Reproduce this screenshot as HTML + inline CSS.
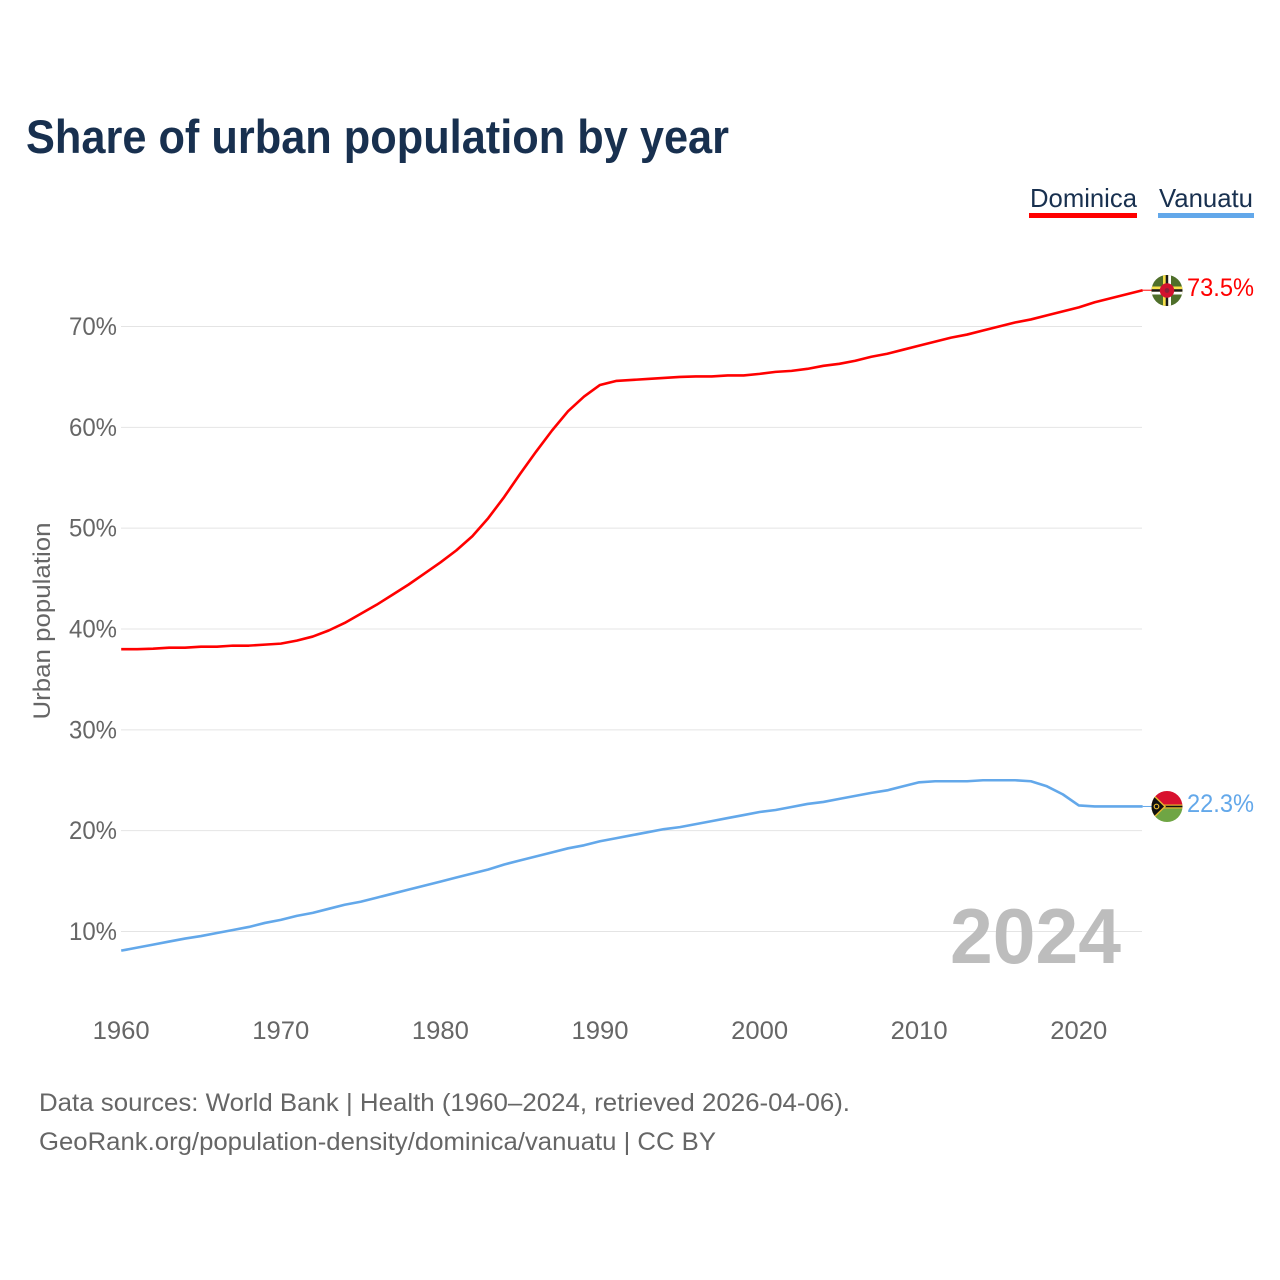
<!DOCTYPE html>
<html lang="en">
<head>
<meta charset="utf-8">
<title>Share of urban population by year</title>
<style>
html,body{margin:0;padding:0;background:#fff;}
svg{display:block;}
text{font-family:"Liberation Sans",sans-serif;}
</style>
</head>
<body>
<svg id="chart" xmlns="http://www.w3.org/2000/svg" width="1280" height="1280" viewBox="0 0 1280 1280">
  <defs>
    <clipPath id="clip-dominica"><circle cx="1167" cy="290.5" r="15.5"/></clipPath>
    <clipPath id="clip-vanuatu"><circle cx="1167" cy="806.5" r="15.5"/></clipPath>
  </defs>
  <rect width="1280" height="1280" fill="#fff"/>
  <text x="26" y="153" font-size="47" font-weight="700" fill="#18304f" textLength="703" lengthAdjust="spacingAndGlyphs">Share of urban population by year</text>

  <g>
    <text x="1030" y="207" font-size="26" fill="#18304f" textLength="107" lengthAdjust="spacingAndGlyphs">Dominica</text>
    <rect x="1029" y="213" width="108" height="5" fill="#ff0000"/>
  </g>
  <g>
    <text x="1159" y="207" font-size="26" fill="#18304f" textLength="94" lengthAdjust="spacingAndGlyphs">Vanuatu</text>
    <rect x="1158" y="213" width="96" height="5" fill="#63a8ea"/>
  </g>

  <g id="grid"></g>
  <g id="y-labels"></g>
  <g id="x-labels"></g>

  <text transform="translate(50,621) rotate(-90)" text-anchor="middle" font-size="24" fill="#666666" textLength="197" lengthAdjust="spacingAndGlyphs">Urban population</text>

  <text x="950" y="963" font-size="78" font-weight="700" fill="#bdbdbd" textLength="171" lengthAdjust="spacingAndGlyphs">2024</text>

  <g id="series"></g>

  <g clip-path="url(#clip-dominica)">
    <rect x="1151" y="275" width="32" height="32" fill="#4f6f2a"/>
    <rect x="1163" y="275" width="8" height="32" fill="#f7e04b"/>
    <rect x="1165.7" y="275" width="2.6" height="32" fill="#1a1a1a"/>
    <rect x="1168.3" y="275" width="2.7" height="32" fill="#fff"/>
    <rect x="1151" y="286.5" width="32" height="8" fill="#f7e04b"/>
    <rect x="1151" y="289.2" width="32" height="2.6" fill="#1a1a1a"/>
    <rect x="1151" y="291.8" width="32" height="2.7" fill="#fff"/>
    <circle cx="1167" cy="290.5" r="7.2" fill="#d2122e"/>
    <circle cx="1167" cy="290.5" r="2.4" fill="#8a2238"/>
  </g>
  <g clip-path="url(#clip-vanuatu)">
    <rect x="1151" y="791" width="32" height="16" fill="#d8112f"/>
    <rect x="1151" y="806.5" width="32" height="16" fill="#6fa544"/>
    <rect x="1151" y="804.5" width="32" height="4" fill="#e8b92e"/>
    <rect x="1151" y="805.7" width="32" height="1.6" fill="#111"/>
    <polygon points="1149,790 1166,806.5 1149,823" fill="#e8b92e"/>
    <polygon points="1149,792 1164,806.5 1149,821" fill="#111"/>
    <circle cx="1156.5" cy="806.5" r="2.3" fill="none" stroke="#e8b92e" stroke-width="1.2"/>
  </g>

  <text x="1187" y="296" font-size="25" fill="#ff0000" textLength="67" lengthAdjust="spacingAndGlyphs">73.5%</text>
  <text x="1187" y="812" font-size="25" fill="#63a8ea" textLength="67" lengthAdjust="spacingAndGlyphs">22.3%</text>

  <text x="39" y="1111" font-size="25" fill="#666666" textLength="811" lengthAdjust="spacingAndGlyphs">Data sources: World Bank | Health (1960–2024, retrieved 2026-04-06).</text>
  <text x="39" y="1150" font-size="25" fill="#666666" textLength="677" lengthAdjust="spacingAndGlyphs">GeoRank.org/population-density/dominica/vanuatu | CC BY</text>
</svg>
<script>
const startYear = 1960;
const yTicks = [10, 20, 30, 40, 50, 60, 70];
const yTickLabels = ['10%', '20%', '30%', '40%', '50%', '60%', '70%'];
const xTicks = [1960, 1970, 1980, 1990, 2000, 2010, 2020];
const xTickLabels = ['1960', '1970', '1980', '1990', '2000', '2010', '2020'];
const dominica = [38.0,38.0,38.05,38.15,38.15,38.25,38.25,38.35,38.35,38.45,38.55,38.85,39.25,39.85,40.6,41.5,42.4,43.4,44.4,45.5,46.6,47.8,49.2,51.0,53.1,55.4,57.6,59.7,61.6,63.05,64.2,64.6,64.7,64.8,64.9,65.0,65.05,65.05,65.15,65.15,65.3,65.5,65.6,65.8,66.1,66.3,66.6,67.0,67.3,67.7,68.1,68.5,68.9,69.2,69.6,70.0,70.4,70.7,71.1,71.5,71.9,72.4,72.8,73.2,73.6];
const vanuatu = [8.1,8.4,8.7,9.0,9.3,9.55,9.85,10.15,10.45,10.85,11.15,11.55,11.85,12.25,12.65,12.95,13.35,13.75,14.15,14.55,14.95,15.35,15.75,16.15,16.65,17.05,17.45,17.85,18.25,18.55,18.95,19.25,19.55,19.85,20.15,20.35,20.65,20.95,21.25,21.55,21.85,22.05,22.35,22.65,22.85,23.15,23.45,23.75,24.0,24.4,24.8,24.9,24.9,24.9,25.0,25.0,25.0,24.9,24.4,23.6,22.5,22.4,22.4,22.4,22.4];

const NS = 'http://www.w3.org/2000/svg';
function xScale(year) { return 121.2 + (year - 1960) * (1078.8 - 121.2) / 60; }
function yScale(value) { return 931.5 - (value - 10) * (931.5 - 326.5) / 60; }
function linePath(values) {
  return values.map(function (v, i) {
    return (i ? 'L' : 'M') + xScale(startYear + i).toFixed(2) + ' ' + yScale(v).toFixed(2);
  }).join(' ');
}

const gridGroup = document.getElementById('grid');
const yGroup = document.getElementById('y-labels');
const xGroup = document.getElementById('x-labels');
const seriesGroup = document.getElementById('series');

yTicks.forEach(function (t, i) {
  const ln = document.createElementNS(NS, 'line');
  
  
  ln.setAttribute('x1', 121);
  ln.setAttribute('x2', 1142);
  ln.setAttribute('y1', yScale(t));
  ln.setAttribute('y2', yScale(t));
  ln.setAttribute('stroke', '#e4e4e4');
  ln.setAttribute('stroke-width', 1);
  gridGroup.appendChild(ln);

  const label = document.createElementNS(NS, 'text');
  
  
  label.setAttribute('x', 69);
  label.setAttribute('y', yScale(t) + 8.5);
  label.setAttribute('font-size', 25);
  label.setAttribute('fill', '#666666');
  label.setAttribute('textLength', 48);
  label.setAttribute('lengthAdjust', 'spacingAndGlyphs');
  label.textContent = yTickLabels[i];
  yGroup.appendChild(label);
});

xTicks.forEach(function (t, i) {
  const label = document.createElementNS(NS, 'text');
  
  
  label.setAttribute('x', xScale(t) - 28.5);
  label.setAttribute('y', 1039);
  label.setAttribute('font-size', 25);
  label.setAttribute('fill', '#666666');
  label.setAttribute('textLength', 57);
  label.setAttribute('lengthAdjust', 'spacingAndGlyphs');
  label.textContent = xTickLabels[i];
  xGroup.appendChild(label);
});

const lineDominica = document.createElementNS(NS, 'path');


lineDominica.setAttribute('d', linePath(dominica));
lineDominica.setAttribute('fill', 'none');
lineDominica.setAttribute('stroke', '#ff0000');
lineDominica.setAttribute('stroke-width', 2.6);
lineDominica.setAttribute('stroke-linejoin', 'round');
seriesGroup.appendChild(lineDominica);

const lineVanuatu = document.createElementNS(NS, 'path');


lineVanuatu.setAttribute('d', linePath(vanuatu));
lineVanuatu.setAttribute('fill', 'none');
lineVanuatu.setAttribute('stroke', '#63a8ea');
lineVanuatu.setAttribute('stroke-width', 2.6);
lineVanuatu.setAttribute('stroke-linejoin', 'round');
seriesGroup.appendChild(lineVanuatu);

const endYear = startYear + dominica.length - 1;

const connectorDominica = document.createElementNS(NS, 'line');


connectorDominica.setAttribute('x1', xScale(endYear));
connectorDominica.setAttribute('x2', 1153);
connectorDominica.setAttribute('y1', yScale(dominica[dominica.length - 1]));
connectorDominica.setAttribute('y2', yScale(dominica[dominica.length - 1]));
connectorDominica.setAttribute('stroke', '#ff0000');
connectorDominica.setAttribute('stroke-width', 1);
seriesGroup.appendChild(connectorDominica);

const connectorVanuatu = document.createElementNS(NS, 'line');


connectorVanuatu.setAttribute('x1', xScale(endYear));
connectorVanuatu.setAttribute('x2', 1153);
connectorVanuatu.setAttribute('y1', yScale(vanuatu[vanuatu.length - 1]));
connectorVanuatu.setAttribute('y2', yScale(vanuatu[vanuatu.length - 1]));
connectorVanuatu.setAttribute('stroke', '#63a8ea');
connectorVanuatu.setAttribute('stroke-width', 1);
seriesGroup.appendChild(connectorVanuatu);
</script>
</body>
</html>
